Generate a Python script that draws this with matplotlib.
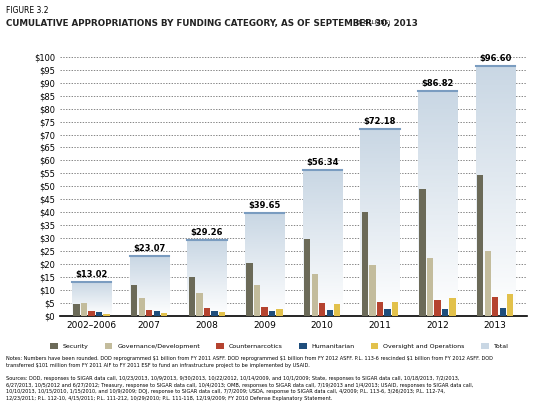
import matplotlib.pyplot as plt
import numpy as np
from matplotlib.colors import LinearSegmentedColormap

years = ['2002–2006', '2007', '2008', '2009', '2010', '2011', '2012', '2013']
total = [13.02, 23.07, 29.26, 39.65, 56.34, 72.18, 86.82, 96.60]
security = [4.5, 12.0, 15.0, 20.5, 29.5, 40.0, 49.0, 54.5]
governance = [5.0, 7.0, 9.0, 12.0, 16.0, 19.5, 22.5, 25.0]
counternarc = [1.7, 2.3, 2.9, 3.5, 4.8, 5.4, 6.2, 7.2]
humanitarian = [1.5, 1.8, 2.0, 2.0, 2.3, 2.5, 2.5, 3.0]
oversight = [0.6, 1.1, 1.4, 2.5, 4.5, 5.3, 6.8, 8.3]

series = [('Security', security, '#6b6a58'),
          ('Governance/Development', governance, '#c3bc9c'),
          ('Counternarcotics', counternarc, '#b5432f'),
          ('Humanitarian', humanitarian, '#1f4e7c'),
          ('Oversight and Operations', oversight, '#e2c14b')]

fig = plt.figure(figsize=(5.35, 4.15), dpi=100)
ax = fig.add_axes([0.112, 0.239, 0.873, 0.624])
x = np.arange(len(years))

# Total backdrop bars with vertical gradient
cmap = LinearSegmentedColormap.from_list('tot', ['#ffffff', '#c9d7e4'])
grad = np.linspace(0, 1, 100).reshape(-1, 1)
tw = 0.68
for xi, t in zip(x, total):
    ax.imshow(grad, extent=[xi - tw/2, xi + tw/2, 0, t], origin='lower', cmap=cmap,
              aspect='auto', zorder=1)
    ax.plot([xi - tw/2, xi + tw/2], [t, t], color='#7a9cc0', lw=1.5, zorder=2)
    ax.text(xi, t + 1.2, f'${t:.2f}', ha='center', va='bottom', fontsize=6,
            weight='bold', zorder=3)

w = 0.13
for i, (name, vals, col) in enumerate(series):
    ax.bar(x + (i - 2) * w, vals, w * 0.85, color=col, label=name, zorder=3)
ax.bar([0], [0], color='#c9d7e4', label='Total')

ax.set_xlim(-0.55, len(years) - 0.45)
ax.set_ylim(0, 100)
ax.set_yticks(range(0, 101, 5))
ax.set_yticklabels([f'${v}' for v in range(0, 101, 5)], fontsize=6)
ax.set_xticks(x)
ax.set_xticklabels(years, fontsize=6.5)
ax.tick_params(length=0)
ax.yaxis.grid(True, linestyle=(0, (2, 2)), color='#555555', lw=0.5, zorder=0)
ax.set_axisbelow(True)
for s in ['top', 'right', 'left']:
    ax.spines[s].set_visible(False)
ax.spines['bottom'].set_linewidth(1.2)

ax.legend(loc='upper center', bbox_to_anchor=(0.47, -0.085), ncol=6, frameon=False,
          fontsize=4.5, handlelength=1.2, handleheight=1.0, columnspacing=2.6)

fig.text(0.012, 0.985, 'FIGURE 3.2', fontsize=5.5, va='top')
fig.text(0.012, 0.955, 'CUMULATIVE APPROPRIATIONS BY FUNDING CATEGORY, AS OF SEPTEMBER 30, 2013',
         fontsize=6.3, weight='bold', va='top', color='#222222')
fig.text(0.665, 0.952, '($ BILLIONS)', fontsize=4, va='top')

notes = ("Notes: Numbers have been rounded. DOD reprogrammed $1 billion from FY 2011 ASFF. DOD reprogrammed $1 billion from FY 2012 ASFF. P.L. 113-6 rescinded $1 billion from FY 2012 ASFF. DOD\n"
         "transferred $101 million from FY 2011 AIF to FY 2011 ESF to fund an infrastructure project to be implemented by USAID.")
sources = ("Sources: DOD, responses to SIGAR data call, 10/23/2013, 10/9/2013, 9/30/2013, 10/22/2012, 10/14/2009, and 10/1/2009; State, responses to SIGAR data call, 10/18/2013, 7/2/2013,\n"
           "6/27/2013, 10/5/2012 and 6/27/2012; Treasury, response to SIGAR data call, 10/4/2013; OMB, responses to SIGAR data call, 7/19/2013 and 1/4/2013; USAID, responses to SIGAR data call,\n"
           "10/10/2013, 10/15/2010, 1/15/2010, and 10/9/2009; DOJ, response to SIGAR data call, 7/7/2009; USDA, response to SIGAR data call, 4/2009; P.L. 113-6, 3/26/2013; P.L. 112-74,\n"
           "12/23/2011; P.L. 112-10, 4/15/2011; P.L. 111-212, 10/29/2010; P.L. 111-118, 12/19/2009; FY 2010 Defense Explanatory Statement.")
fig.text(0.012, 0.142, notes, fontsize=3.6, va='top', linespacing=1.4)
fig.text(0.012, 0.094, sources, fontsize=3.6, va='top', linespacing=1.4)

fig.savefig('out.png', dpi=100)
